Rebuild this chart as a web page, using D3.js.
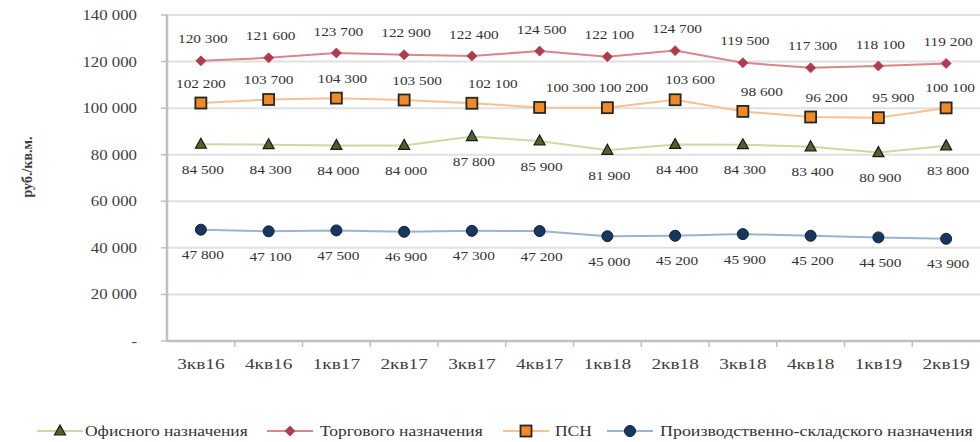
<!DOCTYPE html>
<html><head><meta charset="utf-8">
<script src="https://cdn.jsdelivr.net/npm/d3@7"></script>
<style>body{margin:0;background:#fff}svg{display:block}</style>
</head><body>
<svg id="c" width="980" height="442"></svg>
<script>
const categories = ["3кв16","4кв16","1кв17","2кв17","3кв17","4кв17","1кв18","2кв18","3кв18","4кв18","1кв19","2кв19"];
const officeValues = [84500,84300,84000,84000,87800,85900,81900,84400,84300,83400,80900,83800];
const retailValues = [120300,121600,123700,122900,122400,124500,122100,124700,119500,117300,118100,119200];
const psnValues = [102200,103700,104300,103500,102100,100300,100200,103600,98600,96200,95900,100100];
const industrialValues = [47800,47100,47500,46900,47300,47200,45000,45200,45900,45200,44500,43900];
const yTicks = [0,20000,40000,60000,80000,100000,120000,140000];
const seriesNames = ["Офисного назначения","Торгового назначения","ПСН","Производственно-складского назначения"];
const yTitle = "руб./кв.м.";

(function(){
const svg = d3.select("#c");
const FONT = "'Liberation Serif','Times New Roman',serif";
const pLeft = 167, pRight = 980, pTop = 15, pBottom = 341;
const x = d3.scaleBand().domain(categories).range([pLeft, pRight]);
const y = d3.scaleLinear().domain([0,140000]).range([pBottom, pTop]);
const fmt = v => v === 0 ? "-" : d3.format(",")(v).replace(/,/g, "\u00a0");
// horizontal nudges of the ПСН data labels (layout only)
const psnLabelShift = [0,0,6,13,21,31,16,15,19,16,15,4];

function stext(g, tx, ty, str, size, sx, anchor, fill, weight) {
  return g.append("text")
    .attr("transform", `translate(${tx},${ty}) scale(${sx},1)`)
    .attr("text-anchor", anchor)
    .attr("dominant-baseline", "central")
    .attr("font-family", FONT).attr("font-size", size)
    .attr("font-weight", weight || "normal")
    .attr("fill", fill || "#404040")
    .text(str);
}

const grid = svg.append("g");
grid.selectAll("line").data(yTicks.filter(d => d > 0)).join("line")
  .attr("x1", pLeft).attr("x2", pRight)
  .attr("y1", d => y(d)).attr("y2", d => y(d))
  .attr("stroke", "#e0e0e0").attr("stroke-width", 2);

const yAxis = svg.append("g");
yAxis.append("line").attr("x1", pLeft).attr("x2", pLeft).attr("y1", pTop).attr("y2", pBottom)
  .attr("stroke", "#bfbfbf").attr("stroke-width", 2.5);
yTicks.forEach(t => {
  yAxis.append("line").attr("x1", pLeft - 6).attr("x2", pLeft).attr("y1", y(t)).attr("y2", y(t))
    .attr("stroke", "#bfbfbf").attr("stroke-width", 1.5);
  stext(yAxis, 137, y(t), fmt(t), 14, 1.2, "end", "#404040");
});

const xAxis = svg.append("g");
xAxis.append("line").attr("x1", pLeft).attr("x2", pRight).attr("y1", pBottom).attr("y2", pBottom)
  .attr("stroke", "#bfbfbf").attr("stroke-width", 2.5);
categories.forEach((c, i) => {
  const bx = x(c);
  if (i > 0) xAxis.append("line").attr("x1", bx).attr("x2", bx).attr("y1", pBottom).attr("y2", pBottom + 6)
    .attr("stroke", "#bfbfbf").attr("stroke-width", 1.5);
  stext(xAxis, bx + x.bandwidth()/2, 364, c, 14, 1.38, "middle", "#404040");
});

svg.append("text")
  .attr("transform", `translate(27,167) rotate(-90)`)
  .attr("text-anchor", "middle").attr("dominant-baseline", "central")
  .attr("font-family", FONT).attr("font-size", 14).attr("font-weight", "bold").attr("fill", "#404040")
  .text(yTitle);

const cx = c => x(c) + x.bandwidth()/2;
const series = [
  {name: seriesNames[0], values: officeValues, line: "#c9dba3", marker: "triangle", fill: "#4f6228", stroke: "#1a1a1a", labelDy: 25, shift: null},
  {name: seriesNames[1], values: retailValues, line: "#d9868c", marker: "diamond", fill: "#b03a4e", stroke: "#b03a4e", labelDy: -22, shift: null},
  {name: seriesNames[2], values: psnValues, line: "#f9c190", marker: "square", fill: "#f08a24", stroke: "#262626", labelDy: -20, shift: psnLabelShift},
  {name: seriesNames[3], values: industrialValues, line: "#9ab2d4", marker: "circle", fill: "#17375e", stroke: "#0d2240", labelDy: 25, shift: null},
];

function drawMarker(g, type, px, py, s) {
  if (type === "triangle") {
    g.append("path").attr("d", `M${px},${py-6}L${px+5.5},${py+4}L${px-5.5},${py+4}Z`)
      .attr("fill", s.fill).attr("stroke", s.stroke).attr("stroke-width", 1.2);
  } else if (type === "diamond") {
    g.append("path").attr("d", `M${px},${py-5}L${px+5},${py}L${px},${py+5}L${px-5},${py}Z`)
      .attr("fill", s.fill).attr("stroke", s.stroke).attr("stroke-width", 0.8);
  } else if (type === "square") {
    g.append("rect").attr("x", px-5.5).attr("y", py-5.5).attr("width", 11).attr("height", 11)
      .attr("fill", s.fill).attr("stroke", s.stroke).attr("stroke-width", 1.8);
  } else {
    g.append("circle").attr("cx", px).attr("cy", py).attr("r", 5.5)
      .attr("fill", s.fill).attr("stroke", s.stroke).attr("stroke-width", 1);
  }
}

const line = d3.line().x((d, i) => cx(categories[i])).y(d => y(d));
series.forEach(s => {
  const g = svg.append("g");
  g.append("path").attr("d", line(s.values)).attr("fill", "none")
    .attr("stroke", s.line).attr("stroke-width", 2);
  s.values.forEach((v, i) => drawMarker(g, s.marker, cx(categories[i]), y(v), s));
  s.values.forEach((v, i) => {
    const dx = s.shift ? s.shift[i] : 2;
    stext(g, cx(categories[i]) + dx, y(v) + s.labelDy, fmt(v), 13, 1.18, "middle", "#333333");
  });
});

const leg = svg.append("g");
const legendPos = [{lx: 37, tx: 85}, {lx: 267, tx: 320}, {lx: 503, tx: 555}, {lx: 607, tx: 660}];
const ly = 431;
series.forEach((s, i) => {
  const p = legendPos[i];
  leg.append("line").attr("x1", p.lx).attr("x2", p.lx + 46).attr("y1", ly).attr("y2", ly)
    .attr("stroke", s.line).attr("stroke-width", 2);
  drawMarker(leg, s.marker, p.lx + 23, ly, s);
  stext(leg, p.tx, ly, s.name, 14, i === 3 ? 1.28 : 1.25, "start", "#333333");
});
})();
</script>
</body></html>
